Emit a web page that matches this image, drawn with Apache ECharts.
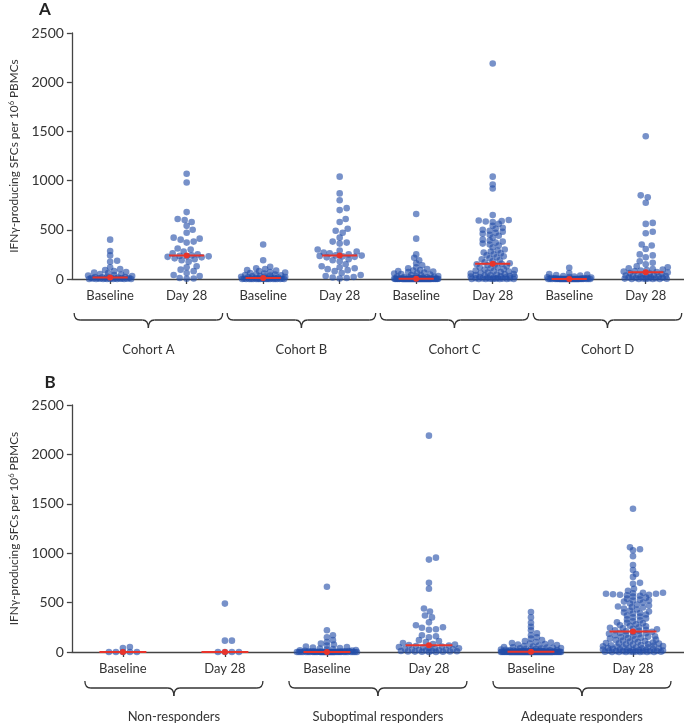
<!DOCTYPE html>
<html><head><meta charset="utf-8">
<script src="https://cdn.jsdelivr.net/npm/echarts@6/dist/echarts.min.js"></script>
<style>html,body{margin:0;padding:0;background:#fff}#c{width:684px;height:725px}</style>
</head><body><div id="c"></div>
<script>
// ---------- DATA ----------
const catsA = ['Baseline','Day 28','Baseline','Day 28','Baseline','Day 28','Baseline','Day 28'];
const groupsA = ['Cohort A','Cohort B','Cohort C','Cohort D'];
const catsB = ['Baseline','Day 28','Baseline','Day 28','Baseline','Day 28'];
const groupsB = ['Non-responders','Suboptimal responders','Adequate responders'];
const yTicks = [0, 500, 1000, 1500, 2000, 2500];

const cohortABase = [400,285,240,185,175,120,100,90,80,70,65,60,50,45,40,35,30,25,20,20,18,15,12,10,10,8,6,5,5,4,3,2,2,1,0,0,0,0,0,0,0,0];
const cohortADay28 = [1070,980,680,610,600,580,540,500,470,420,410,400,380,370,310,300,280,260,250,240,235,230,230,225,220,210,200,190,175,130,120,95,80,60,40,30,10,5,2];
const cohortBBase = [350,190,125,110,100,90,85,80,70,65,60,55,50,45,40,38,35,30,28,25,22,20,18,15,12,10,10,8,6,5,4,3,2,1,0,0,0,0,0,0,0,0,0,0,0,0,0,0,0,0];
const cohortBDay28 = [1040,870,800,720,700,610,580,510,490,470,420,380,370,360,300,290,280,270,260,250,240,238,235,230,225,220,200,190,180,150,130,120,110,100,90,80,60,40,30,20,15,10,5];
const cohortCBase = [660,410,250,215,190,160,140,120,110,100,90,85,80,75,70,65,60,55,50,45,40,35,30,28,25,22,20,18,15,12,10,8,7,6,5,5,4,4,3,3,3,2,2,2,1,1,1,1,0,0,0,0,0,0,0,0,0,0,0,0,0,0,0,0,0,0,0,0,0,0,0,0,0,0,0,0,0,0,0,0];
const cohortCDay28 = [2190,1040,960,920,650,600,595,590,585,580,560,540,520,510,500,490,480,470,460,450,440,420,400,390,380,370,360,350,340,320,300,290,280,270,260,250,240,230,220,210,200,190,180,170,160,155,150,145,140,130,120,115,110,100,95,90,85,80,75,70,65,60,55,50,48,45,40,38,35,30,28,25,22,20,18,15,12,10,8,6,5,4,3,2,1,0,0,0,0,0,0];
const cohortDBase = [115,60,50,45,40,35,30,25,20,18,15,12,10,8,6,5,4,3,2,1,0,0,0,0,0,0,0,0,0,0,0,0,0,0,0,0,0,0,0,0,0,0,0,0,0,0,0,0,0,0];
const cohortDDay28 = [1450,850,830,775,570,560,480,465,350,340,305,250,240,220,180,165,150,130,120,110,100,95,90,85,80,75,70,65,60,55,50,45,40,38,35,30,28,25,22,20,18,15,12,10,8,6,5,4,2,1,0,0,0,0];

const nonRespBase = [0,0,0,0,0,40,50];
const nonRespDay28 = [0,0,0,0,115,115,490];
const subBase = [660,220,170,150,120,100,85,75,65,55,50,45,40,35,30,25,20,18,15,12,10,8,6,5,5,4,3,3,2,2,1,1,0,0,0,0,0,0,0,0,0,0,0,0,0,0,0,0,0,0,0,0,0,0,0,0,0,0,0,0,0,0,0,0,0,0];
const subDay28 = [2190,955,935,700,640,440,410,370,350,300,270,250,245,230,225,170,160,150,120,110,100,90,80,75,70,65,60,55,50,45,40,38,35,30,28,25,22,20,18,15,12,10,8,6,5,4,3,2,1,0];
const adeqBase = [405,350,295,255,220,190,170,150,135,120,110,100,95,90,85,80,75,70,65,60,55,50,48,45,42,40,38,35,32,30,28,25,22,20,18,16,15,14,12,10,10,9,9,8,8,7,7,6,6,5,5,5,4,4,4,3,3,3,2,2,2,1,1,1,0,0,0,0,0,0,0,0,0,0,0,0,0,0,0,0,0,0,0,0,0,0,0,0,0,0,0,0,0,0,0,0,0,0,0,0,0,0,0,0,0,0,0,0,0,0,0,0,0,0];
const adeqDay28 = [1450,1060,1040,1030,970,880,830,790,760,700,690,640,620,600,600,595,590,590,585,580,580,575,570,560,550,540,530,520,520,510,500,490,480,470,460,455,450,440,430,420,410,400,395,390,380,370,360,350,340,330,320,310,300,295,290,280,270,265,260,250,245,240,235,230,225,220,215,210,205,200,195,190,185,180,175,170,165,160,155,150,145,140,135,130,125,120,115,110,105,100,95,90,88,85,80,78,75,70,68,65,60,58,55,50,48,45,42,40,38,35,32,30,28,25,22,20,18,16,15,12,10,9,8,7,6,5,4,3,2,1,1,0,0,0,0,0];

const seriesA = [cohortABase, cohortADay28, cohortBBase, cohortBDay28, cohortCBase, cohortCDay28, cohortDBase, cohortDDay28];
const seriesB = [nonRespBase, nonRespDay28, subBase, subDay28, adeqBase, adeqDay28];

// ---------- STYLE ----------
const FONT = 'Lato';
const TXT = '#333';
const DOT = 'rgba(35,78,168,0.62)';
const RED = '#e8342b';
const R = 3.3;

function median(a){const s=[...a].sort((x,y)=>x-y);const n=s.length;return n%2?s[(n-1)/2]:(s[n/2-1]+s[n/2])/2;}

function swarm(values, k, halfW, dist, squash){
  const idx = values.map((v,i)=>i).sort((a,b)=>values[a]-values[b]);
  const placed=[]; const out=new Array(values.length);
  const cands=[0]; for(let s=1;s<=halfW;s++){cands.push(s,-s);}
  for(const i of idx){
    const y=values[i]*k*squash;
    const near=placed.filter(p=>Math.abs(p.y-y)<dist);
    let best=0, bestScore=-1;
    for(const c of cands){
      let minD=Infinity;
      for(const p of near){const d=Math.hypot(p.x-c,p.y-y); if(d<minD)minD=d;}
      if(minD>=dist){best=c;bestScore=Infinity;break;}
      if(minD>bestScore){bestScore=minD;best=c;}
    }
    placed.push({x:best,y}); out[i]=best;
  }
  return out;
}

const chart = echarts.init(document.getElementById('c'), null, {renderer:'canvas'});

const yAxisCommon = {
  type:'value', min:0, max:2500, interval:500,
  name:'IFNγ-producing SFCs per 10{sup|6} PBMCs', nameLocation:'middle', nameGap:38,
  nameTextStyle:{fontFamily:FONT, fontSize:11.8, color:TXT, rich:{sup:{fontFamily:FONT,fontSize:7.5,color:TXT,verticalAlign:'top',padding:[0,0,5,0]}}},
  axisLine:{show:true, lineStyle:{color:'#444', width:1.3}},
  axisTick:{show:true, length:5, lineStyle:{color:'#444', width:1.3}},
  axisLabel:{fontFamily:FONT, fontSize:14, color:TXT, margin:8, formatter:(v)=>String(v)},
  splitLine:{show:false}
};
const xAxisCommon = {
  type:'category',
  axisLine:{show:true, onZero:false, lineStyle:{color:'#444', width:1.3}},
  axisTick:{show:true, alignWithLabel:true, length:5, lineStyle:{color:'#444', width:1.3}},
  axisLabel:{fontFamily:FONT, fontSize:13, color:TXT, margin:10, interval:0},
  splitLine:{show:false}
};

const base = {
  animation:false,
  backgroundColor:'#fff',
  grid:[
    {left:62, right:0, top:33, height:246},
    {left:62, right:0, top:405, height:247}
  ],
  xAxis:[
    Object.assign({gridIndex:0, data:catsA}, xAxisCommon),
    Object.assign({gridIndex:1, data:catsB}, xAxisCommon)
  ],
  yAxis:[
    Object.assign({gridIndex:0}, yAxisCommon),
    Object.assign({gridIndex:1}, yAxisCommon)
  ]
};
chart.setOption(base);

function buildPanel(sets, gi){
  const k = (chart.convertToPixel({yAxisIndex:gi},0)-chart.convertToPixel({yAxisIndex:gi},2500))/2500;
  const band = chart.convertToPixel({xAxisIndex:gi},1)-chart.convertToPixel({xAxisIndex:gi},0);
  const pts=[]; const meds=[];
  sets.forEach((vals,ci)=>{
    const squash = (ci%2===0 || vals.length>=60) ? 2.0 : 1.2;
    const off = swarm(vals,k,band*0.3,6.6,squash);
    vals.forEach((v,j)=>pts.push([ci,v,off[j]]));
    meds.push([ci,median(vals)]);
  });
  return {pts, meds, band};
}
const pA = buildPanel(seriesA,0);
const pB = buildPanel(seriesB,1);

function dotSeries(p, gi){
  return {
    type:'custom', xAxisIndex:gi, yAxisIndex:gi, data:p.pts, encode:{x:0,y:1}, clip:false, z:2,
    renderItem:(params,api)=>{
      const c=api.coord([api.value(0),api.value(1)]);
      return {type:'circle', shape:{cx:c[0]+api.value(2), cy:c[1], r:R}, style:{fill:DOT}};
    }
  };
}
function medSeries(p, gi){
  return {
    type:'custom', xAxisIndex:gi, yAxisIndex:gi, data:p.meds, encode:{x:0,y:1}, clip:false, z:5,
    renderItem:(params,api)=>{
      const c=api.coord([api.value(0),api.value(1)]);
      const hw=api.size([1,0])[0]*0.23;
      return {type:'group', children:[
        {type:'line', shape:{x1:c[0]-hw,y1:c[1],x2:c[0]+hw,y2:c[1]}, style:{stroke:RED,lineWidth:2}},
        {type:'circle', shape:{cx:c[0],cy:c[1],r:3}, style:{fill:RED}}
      ]};
    }
  };
}

function braces(groups, gi, yTop, halfExt, labelY){
  const out=[];
  const st={fill:null, stroke:'#333', lineWidth:1.3};
  groups.forEach((g,i)=>{
    const xa=chart.convertToPixel({xAxisIndex:gi},2*i);
    const xb=chart.convertToPixel({xAxisIndex:gi},2*i+1);
    const x1=xa-halfExt, x2=xb+halfExt, xm=(xa+xb)/2;
    const y0=yTop, y1=yTop+7, y2=yTop+15, r=6;
    out.push({type:'bezierCurve', shape:{x1:x1,y1:y0,cpx1:x1,cpy1:y1,x2:x1+r,y2:y1}, style:st});
    out.push({type:'line', shape:{x1:x1+r,y1:y1,x2:xm-r,y2:y1}, style:st});
    out.push({type:'bezierCurve', shape:{x1:xm-r,y1:y1,cpx1:xm,cpy1:y1,x2:xm,y2:y2}, style:st});
    out.push({type:'bezierCurve', shape:{x1:xm,y1:y2,cpx1:xm,cpy1:y1,x2:xm+r,y2:y1}, style:st});
    out.push({type:'line', shape:{x1:xm+r,y1:y1,x2:x2-r,y2:y1}, style:st});
    out.push({type:'bezierCurve', shape:{x1:x2-r,y1:y1,cpx1:x2,cpy1:y1,x2:x2,y2:y0}, style:st});
    out.push({type:'text', x:xm, y:labelY, style:{text:g, fontFamily:FONT, fontSize:13, fill:TXT, align:'center', verticalAlign:'middle'}});
  });
  return out;
}

const graphic = [
  {type:'text', x:45, y:10, style:{text:'A', fontFamily:FONT, fontSize:17, fontWeight:'bold', fill:'#222', align:'center', verticalAlign:'middle'}},
  {type:'text', x:50, y:383, style:{text:'B', fontFamily:FONT, fontSize:17, fontWeight:'bold', fill:'#222', align:'center', verticalAlign:'middle'}}
].concat(braces(groupsA,0,313,36,350)).concat(braces(groupsB,1,681,38,717));

chart.setOption({
  series:[dotSeries(pA,0), medSeries(pA,0), dotSeries(pB,1), medSeries(pB,1)],
  graphic: graphic
});
</script></body></html>
